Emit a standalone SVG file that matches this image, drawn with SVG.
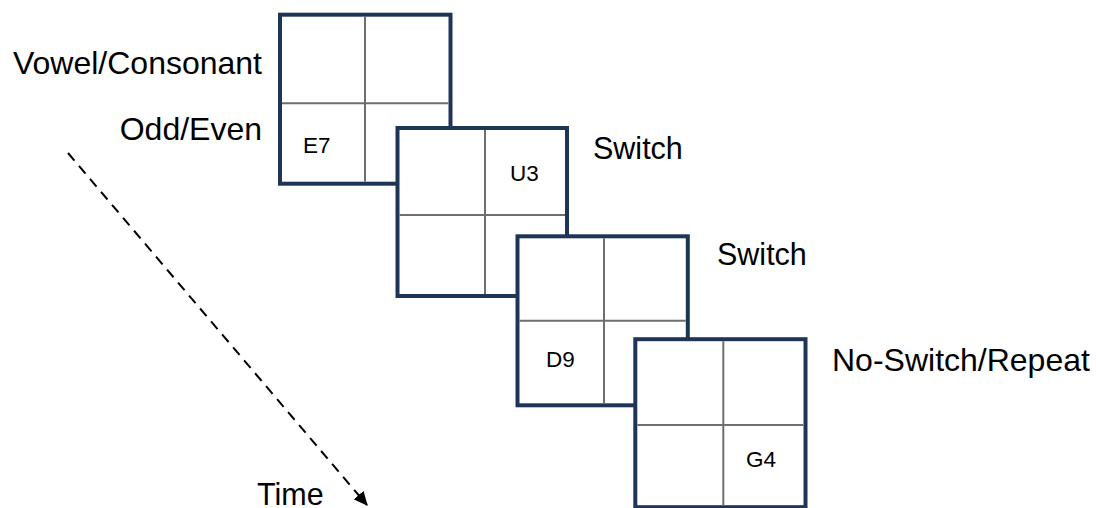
<svg xmlns="http://www.w3.org/2000/svg" width="1096" height="508" viewBox="0 0 1096 508">
  <style>
    .card { fill: #ffffff; stroke: #1f3558; stroke-width: 4; }
    .grid { stroke: #6e6e6e; stroke-width: 2; fill: none; }
    .lbl { font-family: "Liberation Sans", Arial, sans-serif; font-size: 32px; fill: #000000; }
    .lbl2 { font-family: "Liberation Sans", Arial, sans-serif; font-size: 30.5px; fill: #000000; }
    .cell { font-family: "Liberation Sans", Arial, sans-serif; font-size: 22.5px; fill: #000000; }
    .time { stroke: #000000; stroke-width: 2; stroke-dasharray: 10 7; fill: none; }
  </style>
  <defs>
    <marker id="arrow" viewBox="0 0 14 13" refX="13" refY="6.5" markerWidth="14" markerHeight="13" markerUnits="userSpaceOnUse" orient="auto">
      <path d="M0,0 L14,6.5 L0,13 z" fill="#000000"/>
    </marker>
  </defs>

  <g id="labels">
    <text class="lbl" x="262" y="74" text-anchor="end">Vowel/Consonant</text>
    <text class="lbl" x="262" y="140" text-anchor="end">Odd/Even</text>
    <text class="lbl2" x="593" y="159">Switch</text>
    <text class="lbl2" x="717" y="265">Switch</text>
    <text class="lbl" x="832" y="371">No-Switch/Repeat</text>
    <text class="lbl2" x="257" y="505">Time</text>
  </g>

  <g id="connectors">
    <line class="time" x1="68" y1="153" x2="367" y2="505" marker-end="url(#arrow)"/>
  </g>

  <g id="trial1">
    <rect class="card" x="280" y="14.7" width="170.5" height="169"/>
    <line class="grid" x1="365" y1="16.7" x2="365" y2="181.7"/>
    <line class="grid" x1="282" y1="103.3" x2="448.5" y2="103.3"/>
    <text class="cell" x="303" y="153">E7</text>
  </g>

  <g id="trial2">
    <rect class="card" x="397.5" y="128" width="169.5" height="168"/>
    <line class="grid" x1="485" y1="130" x2="485" y2="294"/>
    <line class="grid" x1="399.5" y1="215" x2="565" y2="215"/>
    <text class="cell" x="510" y="181">U3</text>
  </g>

  <g id="trial3">
    <rect class="card" x="517.5" y="236.3" width="170.3" height="169"/>
    <line class="grid" x1="604" y1="238.3" x2="604" y2="403.3"/>
    <line class="grid" x1="519.5" y1="320.7" x2="685.8" y2="320.7"/>
    <text class="cell" x="546" y="367">D9</text>
  </g>

  <g id="trial4">
    <rect class="card" x="635.3" y="339.2" width="170.2" height="168"/>
    <line class="grid" x1="723.3" y1="341.2" x2="723.3" y2="505.2"/>
    <line class="grid" x1="637.3" y1="425" x2="803.5" y2="425"/>
    <text class="cell" x="746" y="467">G4</text>
  </g>
</svg>
